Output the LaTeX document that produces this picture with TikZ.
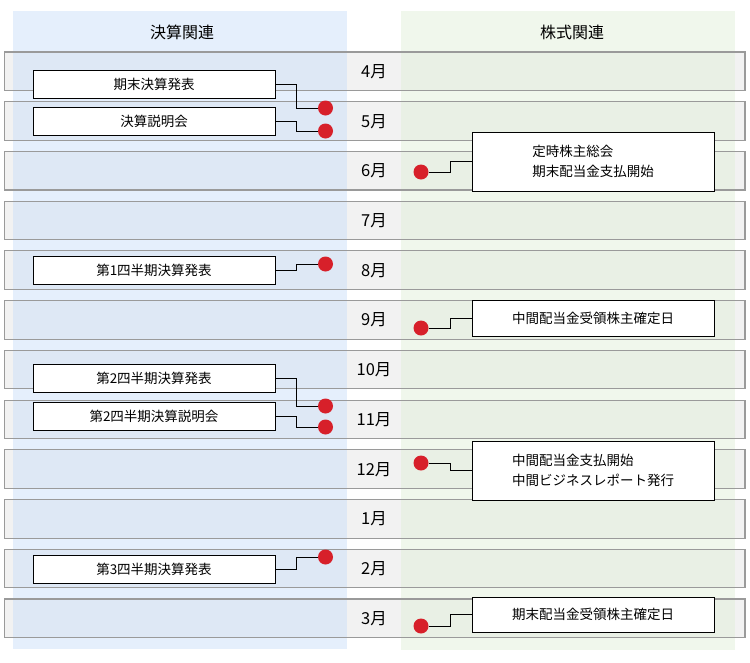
\documentclass[tikz,border=0pt]{standalone}
\usepackage{fontspec}
\setmainfont{Noto Sans CJK JP}
\definecolor{rowgray}{HTML}{F2F2F2}
\definecolor{rowline}{HTML}{9A9A9A}
\definecolor{kessan}{RGB}{203,223,249}
\definecolor{kabu}{RGB}{225,239,217}
\definecolor{dotred}{HTML}{D7202A}
\tikzset{
	evbox/.style={draw=black, line width=0.9pt, fill=white, minimum width=242, minimum height=28, inner sep=0, font=\fontsize{13.5}{20}\selectfont},
	evdot/.style={circle, fill=dotred, minimum size=15, inner sep=0},
	link/.style={draw=black, line width=0.9pt},
	month/.style={font=\fontsize{16.5}{18}\selectfont},
	head/.style={font=\fontsize{16}{18}\selectfont}
}

\begin{document}
\begin{tikzpicture}[x=1pt, y=-1pt]
		%%%%% START %%%%%
		\useasboundingbox (0, 0) rectangle (750, 662);
		
		% month bars
		\foreach \i in {0,...,11}{
			\pgfmathsetmacro\t{52+49.73*\i}
			\fill[rowgray] (4.5, \t) rectangle (745, \t+38.5);
		}
		
		% columns
		\fill[kessan, opacity=0.5] (13, 11) rectangle (347, 649);
		\fill[kabu, opacity=0.5] (401, 11) rectangle (735, 650);
		
		\foreach \m [count=\i from 0] in {4,5,6,7,8,9,10,11,12,1,2,3}{
			\pgfmathsetmacro\t{52+49.73*\i}
			\draw[rowline, line width=1.1pt] (4.5, \t) rectangle (745, \t+38.5);
			\node[month] (m\m) at (374, \t+19.5) {\m 月};
		}
		
		\node[head] (hk) at (182, 32) {決算関連};
		\node[head] (hs) at (572, 32) {株式関連};
		
		% left column
		\node[evbox] (b1) at (154, 84) {期末決算発表};
		\node[evbox] (b2) at (154, 121) {決算説明会};
		\node[evbox] (b3) at (154, 270) {第1四半期決算発表};
		\node[evbox] (b4) at (154, 378) {第2四半期決算発表};
		\node[evbox] (b5) at (154, 416) {第2四半期決算説明会};
		\node[evbox] (b6) at (154, 569) {第3四半期決算発表};
		
		\node[evdot] (d1) at (325.5, 108) {};
		\node[evdot] (d2) at (325.5, 131) {};
		\node[evdot] (d3) at (325.5, 264) {};
		\node[evdot] (d4) at (325.5, 406) {};
		\node[evdot] (d5) at (325.5, 427) {};
		\node[evdot] (d6) at (325.5, 557) {};
		
		\draw[link] (b1.east) -- ++(21, 0) |- (d1.west);
		\draw[link] (b2.east) -- ++(21, 0) |- (d2.west);
		\draw[link] (b3.east) -- ++(21, 0) |- (d3.west);
		\draw[link] (b4.east) -- ++(21, 0) |- (d4.west);
		\draw[link] (b5.east) -- ++(21, 0) |- (d5.west);
		\draw[link] (b6.east) -- ++(21, 0) |- (d6.west);
		
		% right column
		\node[evbox, minimum height=59, align=left] (c1) at (593, 161.5) {定時株主総会\\期末配当金支払開始};
		\node[evbox, minimum height=36] (c2) at (593, 318) {中間配当金受領株主確定日};
		\node[evbox, minimum height=59, align=left] (c3) at (593, 470.5) {中間配当金支払開始\\中間ビジネスレポート発行};
		\node[evbox, minimum height=35] (c4) at (593, 614.5) {期末配当金受領株主確定日};
		
		\node[evdot] (e1) at (421, 172) {};
		\node[evdot] (e2) at (421, 328) {};
		\node[evdot] (e3) at (421, 463) {};
		\node[evdot] (e4) at (421, 626) {};
		
		\draw[link] (e1.east) -- ++(21.5, 0) |- (c1.west);
		\draw[link] (e2.east) -- ++(21.5, 0) |- (c2.west);
		\draw[link] (e3.east) -- ++(21.5, 0) |- (c3.west);
		\draw[link] (e4.east) -- ++(21.5, 0) |- (c4.west);
		
		%%%%% END %%%%%
\end{tikzpicture}
\end{document}
